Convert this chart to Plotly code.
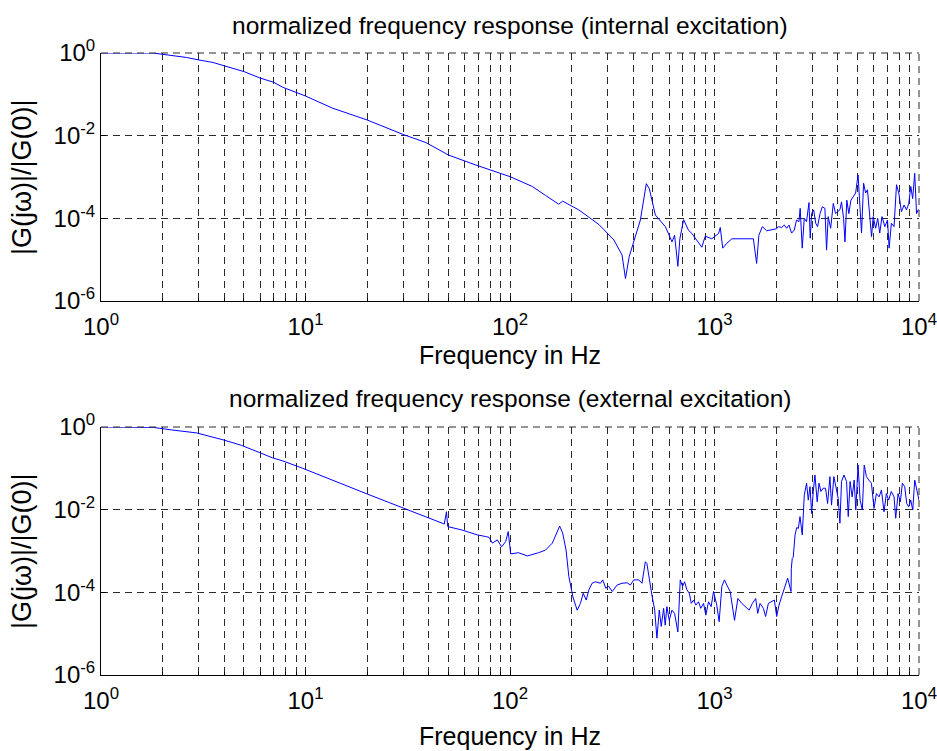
import plotly.graph_objects as go

# internal excitation (top panel): frequency in Hz, normalized magnitude
freq_int = [1, 1.3, 1.8, 2, 2.62, 3, 3.53, 4, 5, 5.97, 7, 7.75, 10, 13.6, 20, 30, 38.8, 50, 68, 100,
            128.5, 149, 173, 181, 217, 272, 322, 353, 367, 383, 434, 464, 480, 514, 575, 620, 638, 662,
            677, 706, 747, 775, 867, 901, 970, 1047, 1067, 1097, 1145, 1216, 1238, 1549, 1607, 1648,
            1714, 1800, 2013, 2051, 2130, 2193, 2254, 2312, 2382, 2455, 2518, 2588, 2624, 2685, 2748,
            2818, 2897, 2938, 2985, 3055, 3126, 3192, 3281, 3365, 3467, 3532, 3597, 3698, 3810, 3908,
            4000, 4104, 4180, 4276, 4345, 4436, 4539, 4645, 4764, 4898, 5035, 5140, 5236, 5358, 5483,
            5598, 5728, 5861, 5970, 6138, 6281, 6427, 6592, 6808, 7015, 7145, 7328, 7551, 7762, 7962,
            8204, 8453, 8690, 8913, 9120, 9311, 9528, 9727, 9908, 10000]
mag_int = [1.0, 1.0, 1.0, 0.93, 0.78, 0.68, 0.59, 0.49, 0.355, 0.25, 0.195, 0.148, 0.091, 0.046, 0.024,
           0.0107, 6.8e-3, 3.4e-3, 1.95e-3, 1.02e-3,
           5.9e-4, 3.6e-4, 2.2e-4, 2.6e-4, 1.6e-4, 7.1e-5, 3.0e-5, 1.3e-5, 3.5e-6, 1.2e-5, 9.1e-5,
           6.9e-4, 5.2e-4, 1.2e-4, 6.3e-5, 2.7e-5, 3.9e-5, 6.9e-6,
           3.2e-5, 9.3e-5, 5.1e-5, 4.3e-5, 2.0e-5, 3.7e-5, 3.2e-5, 4.3e-5, 6.0e-5, 1.9e-5, 2.45e-5,
           3.2e-5, 3.2e-5, 3.2e-5, 8.1e-6, 3.9e-5,
           6.3e-5, 5.0e-5, 5.6e-5, 6.3e-5, 6.0e-5, 6.9e-5, 5.75e-5, 6.9e-5, 4.4e-5, 5.2e-5, 9.1e-5,
           8.3e-5, 1.74e-4, 1.9e-5, 1.0e-4,
           8.3e-5, 2.4e-4, 3.3e-5, 1.3e-4, 1.6e-4, 7.6e-5, 6.3e-5, 1.3e-4, 1.9e-4, 1.74e-4, 1.7e-5,
           1.1e-4, 5.75e-5, 2.3e-4, 1.3e-4,
           1.45e-4, 1.6e-4, 2.5e-4, 1.0e-4, 2.7e-5, 2.75e-4, 1.3e-4, 2.75e-4, 3.3e-4, 4.1e-4, 1.12e-3,
           1.6e-4, 4.4e-5, 7.1e-4, 4.1e-4,
           4.9e-4, 1.3e-4, 3.6e-5, 1.1e-4, 5.75e-5, 1.0e-4, 4.4e-5, 1.1e-4, 6.3e-5, 9.1e-5, 1.9e-5,
           7.6e-5, 6.3e-5, 6.5e-4, 4.1e-4,
           1.45e-4, 2.1e-4, 1.6e-4, 2.3e-4, 5.9e-4, 3.0e-4, 1.23e-3, 1.3e-4, 1.6e-4, 1.6e-4]

# external excitation (bottom panel)
freq_ext = [1, 1.5, 1.8, 2.21, 2.93, 3.95, 4.86, 5.97, 6.88, 7.75, 9.7, 19.8, 29.3, 38.8, 47.7, 48.9,
            49.6, 58.5, 69.2, 76, 79, 82, 86.7, 91, 95.3, 98, 100.8, 110, 121.5, 138, 149, 161, 168,
            175, 181, 188, 194, 203, 213, 221, 228, 236, 243, 252, 262, 277, 284, 294, 304, 316, 334,
            353, 374, 388, 403, 426, 442, 459, 467, 480, 494, 510, 523, 537, 549, 564, 574, 585, 601,
            619, 638, 662, 680, 698, 714, 733, 753, 770, 790, 811, 835, 857, 884, 907, 935, 963, 989,
            1026, 1054, 1086, 1119, 1149, 1193, 1253, 1301, 1360, 1422, 1477, 1532, 1590, 1627, 1670,
            1734, 1778, 1834, 1890, 1963, 2014, 2067, 2129, 2213, 2279, 2367, 2375, 2400, 2427, 2477,
            2523, 2570, 2619, 2686, 2748, 2820, 2875, 2931, 2985, 3041, 3099, 3178, 3243, 3314, 3401,
            3491, 3573, 3668, 3735, 3834, 3952, 4027, 4105, 4180, 4295, 4424, 4508, 4603, 4710, 4819,
            4909, 5035, 5152, 5284, 5395, 5534, 5683, 5852, 6026, 6190, 6382, 6552, 6745, 6925, 7105,
            7324, 7551, 7692, 7901, 8110, 8292, 8513, 8710, 8906, 9110, 9320, 9530, 9750, 10000]
mag_ext = [1.0, 1.0, 0.98, 0.85, 0.72, 0.49, 0.36, 0.24, 0.18, 0.151, 0.1, 0.0245, 0.0115, 6.6e-3,
           4.5e-3, 8.9e-3,
           3.9e-3, 3.2e-3, 2.45e-3, 2.24e-3, 2.14e-3, 1.55e-3, 1.86e-3, 1.26e-3, 1.7e-3, 2.95e-3,
           8.5e-4, 9.1e-4, 7.6e-4, 9.1e-4, 1.05e-3, 1.55e-3, 2.45e-3,
           4.0e-3, 2.7e-3, 1.05e-3, 2.4e-4, 7.8e-5, 3.7e-5, 5.4e-5, 9.5e-5, 6.5e-5, 1.15e-4, 1.66e-4,
           1.8e-4, 1.66e-4, 2.0e-4, 1.26e-4, 1.4e-4, 1.05e-4, 1.5e-4,
           1.66e-4, 1.7e-4, 1.5e-4, 2.0e-4, 2.0e-4, 1.66e-4, 5.5e-4, 5.0e-4, 2.0e-4, 8.7e-5, 3.7e-5,
           7.8e-6, 3.7e-5, 1.5e-5, 4.1e-5, 1.6e-5, 4.5e-5, 2.1e-5,
           3.7e-5, 3.1e-5, 1.1e-5, 2.0e-4, 1.4e-4, 1.8e-4, 1.15e-4, 9.5e-5, 5.4e-5, 6.5e-5, 4.9e-5,
           5.9e-5, 4.1e-5, 5.4e-5, 2.8e-5, 5.9e-5, 4.5e-5, 1.05e-4,
           4.9e-5, 1.95e-5, 1.4e-4, 2.0e-4, 1.5e-4, 1.05e-4, 2.1e-5, 7.1e-5, 5.4e-5, 4.5e-5, 3.7e-5,
           5.4e-5, 7.1e-5, 3.1e-5, 5.4e-5,
           4.1e-5, 2.6e-5, 5.4e-5, 5.9e-5, 6.5e-5, 2.6e-5, 4.9e-5, 7.8e-5, 1.5e-4, 2.2e-4, 1.05e-4,
           3.8e-4, 6.6e-4, 7.1e-4, 2.45e-3,
           3.7e-3, 3.5e-3, 6.8e-3, 2.45e-3, 0.0224, 0.0437, 0.017, 0.036, 8.1e-3, 0.0275, 0.069,
           0.0155, 0.0437, 0.0275, 0.033,
           0.033, 0.0141, 0.063, 0.0129, 0.063, 0.030, 0.0186, 4.7e-3, 0.048, 0.069, 0.048, 6.8e-3,
           0.048, 0.0204, 0.052,
           9.8e-3, 0.12, 0.017, 9.8e-3, 0.12, 0.063, 0.052, 0.0437, 0.0107, 0.0245, 0.0204, 0.030,
           8.9e-3, 0.0245, 0.017,
           0.0275, 0.0204, 6.2e-3, 0.0245, 0.0155, 0.0437, 0.036, 0.0141, 0.0117, 0.017, 9.8e-3,
           0.052, 0.033, 0.017]

x_tickvals = [1, 10, 100, 1000, 10000]
x_ticktext = ["10<sup>0</sup>", "10<sup>1</sup>", "10<sup>2</sup>", "10<sup>3</sup>", "10<sup>4</sup>"]
y_tickvals = [1e-6, 1e-4, 1e-2, 1]
y_ticktext = ["10<sup>-6</sup>", "10<sup>-4</sup>", "10<sup>-2</sup>", "10<sup>0</sup>"]

titles = ["normalized frequency response (internal excitation)",
          "normalized frequency response (external excitation)"]
xlabel = "Frequency in Hz"
ylabel = "|G(jω)|/|G(0)|"

W, H = 937, 751
FONT = "Liberation Sans, Arial, sans-serif"
GRID = "#2a2a2a"
DASH = "7px,5px"
minor_x = [m * 10 ** d for d in range(4) for m in range(2, 10)]

fig = go.Figure()
fig.add_trace(go.Scatter(x=freq_int, y=mag_int, mode="lines", xaxis="x", yaxis="y",
                         line=dict(color="#0000ff", width=1), showlegend=False))
fig.add_trace(go.Scatter(x=freq_ext, y=mag_ext, mode="lines", xaxis="x2", yaxis="y2",
                         line=dict(color="#0000ff", width=1), showlegend=False))

xdom = [101 / W, 919 / W]
ydoms = [[1 - 301 / H, 1 - 53 / H], [1 - 675 / H, 1 - 427 / H]]


def xax(anchor):
    return dict(type="log", range=[0, 4], domain=xdom, anchor=anchor,
                tickmode="array", tickvals=x_tickvals, ticktext=x_ticktext,
                ticks="inside", ticklen=5, tickcolor="black",
                showline=True, linecolor="black", linewidth=1, mirror=False,
                showgrid=True, gridcolor=GRID, gridwidth=1, griddash=DASH,
                minor=dict(tickmode="array", tickvals=minor_x, ticks="inside", ticklen=3,
                           tickcolor="black", showgrid=True, gridcolor=GRID, gridwidth=1,
                           griddash=DASH),
                tickfont=dict(size=24, color="black", family=FONT),
                ticklabeloverflow="allow", ticklabelstandoff=4,
                automargin=False, zeroline=False, fixedrange=True)


def yax(anchor, dom):
    return dict(type="log", range=[-6, 0], domain=dom, anchor=anchor,
                tickmode="array", tickvals=y_tickvals, ticktext=y_ticktext,
                ticks="inside", ticklen=5, tickcolor="black",
                showline=True, linecolor="black", linewidth=1, mirror=False,
                showgrid=True, gridcolor=GRID, gridwidth=1, griddash=DASH,
                tickfont=dict(size=24, color="black", family=FONT),
                ticklabeloverflow="allow",
                automargin=False, zeroline=False, fixedrange=True)


fig.update_layout(
    width=W, height=H,
    margin=dict(l=0, r=0, t=0, b=0, autoexpand=False),
    paper_bgcolor="white", plot_bgcolor="white",
    font=dict(family=FONT, color="black", size=24),
    xaxis=xax("y"), yaxis=yax("x", ydoms[0]),
    xaxis2=xax("y2"), yaxis2=yax("x2", ydoms[1]),
)

# dashed top and right borders (grid lines on the box edges, as in the original)
for xr, yr in [("x", "y"), ("x2", "y2")]:
    fig.add_shape(type="line", xref=xr + " domain", yref=yr + " domain", x0=0, x1=1, y0=1, y1=1,
                  line=dict(color=GRID, width=1, dash=DASH))
    fig.add_shape(type="line", xref=xr + " domain", yref=yr + " domain", x0=1, x1=1, y0=0, y1=1,
                  line=dict(color=GRID, width=1, dash=DASH))

xc = (xdom[0] + xdom[1]) / 2
title_y = [1 - 26 / H, 1 - 399 / H]
xlabel_y = [1 - 355 / H, 1 - 736 / H]
ylabel_y = [1 - 177 / H, 1 - 551 / H]
for i in range(2):
    fig.add_annotation(text=titles[i], x=xc, y=title_y[i], xref="paper", yref="paper",
                       showarrow=False, xanchor="center", yanchor="middle", font=dict(size=24.5))
    fig.add_annotation(text=xlabel, x=xc, y=xlabel_y[i], xref="paper", yref="paper",
                       showarrow=False, xanchor="center", yanchor="middle", font=dict(size=25))
    fig.add_annotation(text=ylabel, x=22 / W, y=ylabel_y[i], xref="paper", yref="paper",
                       showarrow=False, xanchor="center", yanchor="middle", textangle=-90,
                       font=dict(size=27))

# the page's default body margin would shift the 937x751 figure out of the window
fig.write_html("out.html", config={"displayModeBar": False},
               post_script="document.body.style.margin='0';")
